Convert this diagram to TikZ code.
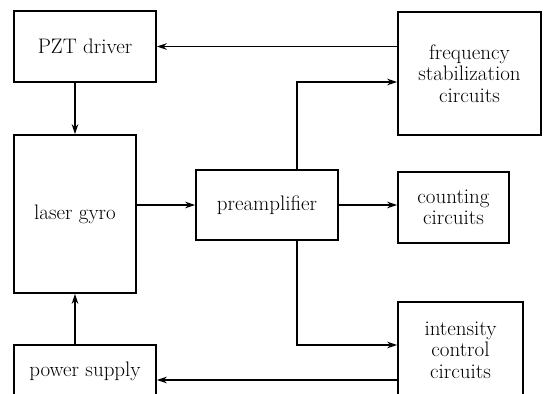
\documentclass[tikz,border=0pt]{standalone}
\usetikzlibrary{arrows.meta,calc}
\begin{document}
\begin{tikzpicture}[x=1pt,y=-1pt,
  box/.style={draw,line width=1.5pt,align=center,inner sep=0pt,font=\fontsize{21}{21.5}\selectfont},
  conn/.style={line width=1.3pt,-{Stealth[length=10pt,width=6.5pt]}},
  plain/.style={line width=1.3pt}]
\useasboundingbox (0,0) rectangle (548,393);
\clip (0,0) rectangle (548,393);
\node[box,minimum width=142pt,minimum height=71pt] (pzt) at (85,46.5) {PZT driver};
\node[box,minimum width=143pt,minimum height=123pt] (freq) at (469.5,73.5) {frequency\\stabilization\\circuits};
\node[box,minimum width=122pt,minimum height=158pt] (laser) at (75,214) {laser gyro};
\node[box,minimum width=142pt,minimum height=70pt] (pre) at (267,205) {preamplifier};
\node[box,minimum width=111pt,minimum height=71pt] (count) at (453.5,207.5) {counting\\circuits};
\node[box,minimum width=125pt,minimum height=96pt] (inten) at (460.5,350) {intensity\\control\\circuits};
\node[box,minimum width=142pt,minimum height=52pt] (power) at (85,371) {power supply};
\coordinate (tap) at (297,205);
\coordinate (fsin) at ([yshift=-8.5pt]freq.west);
\coordinate (isin) at ([yshift=5pt]inten.west);
\coordinate (psin) at ([yshift=-9pt]power.east);
\draw[conn] (freq.west |- pzt.east) -- (pzt.east);
\draw[conn] (pzt.south -| laser.north) -- (laser.north);
\draw[conn] (laser.east |- pre.west) -- (pre.west);
\draw[conn] (pre.east) -- (pre.east -| count.west);
\draw[conn] (tap |- pre.north) |- (fsin);
\draw[conn] (tap |- pre.south) |- (isin);
\draw[conn] (psin -| inten.west) -- (psin);
\draw[conn] (laser.south |- power.north) -- (laser.south);
\end{tikzpicture}
\end{document}
